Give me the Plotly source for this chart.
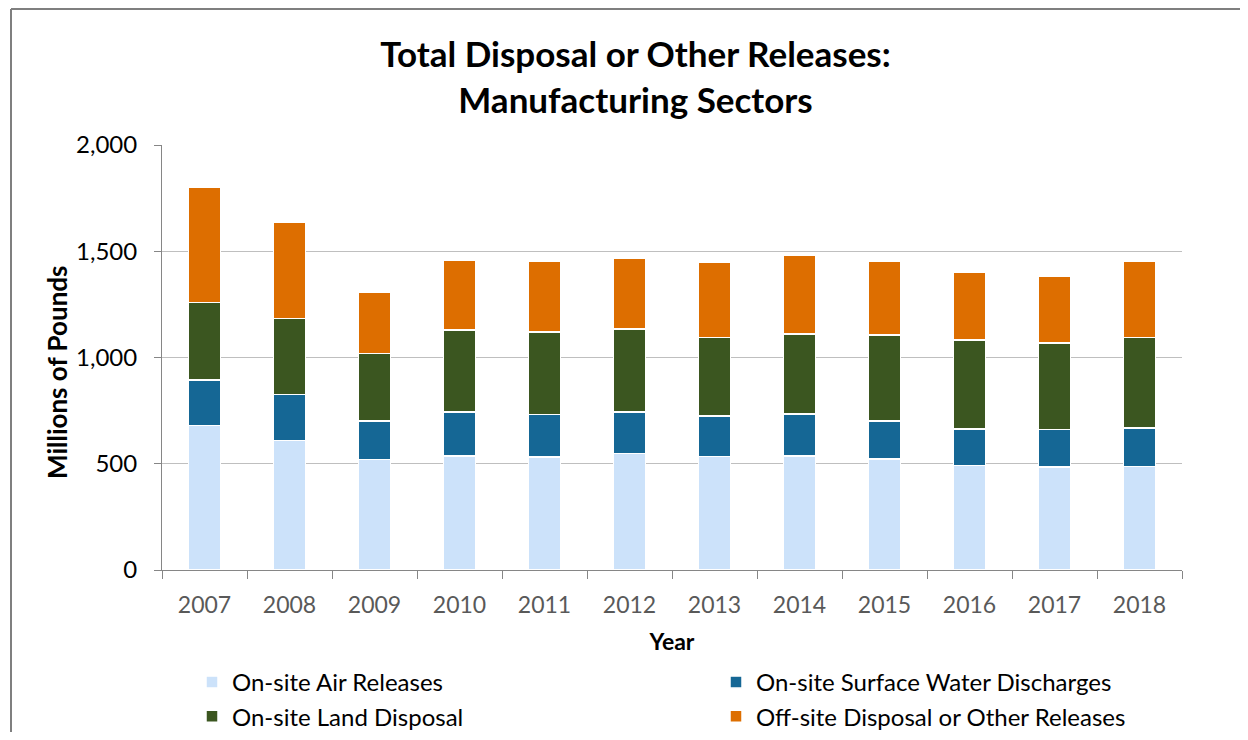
import plotly.graph_objects as go

years = ["2007", "2008", "2009", "2010", "2011", "2012", "2013", "2014", "2015", "2016", "2017", "2018"]
air = [681, 609, 520, 537, 532, 548, 535, 537, 523, 491, 485, 488]
water = [214, 217, 182, 207, 200, 196, 190, 198, 179, 173, 177, 181]
land = [364, 358, 317, 386, 389, 389, 368, 376, 405, 418, 407, 424]
offsite = [540, 452, 289, 328, 331, 335, 353, 371, 345, 321, 314, 359]

series_names = ["On-site Air Releases", "On-site Surface Water Discharges",
                "On-site Land Disposal", "Off-site Disposal or Other Releases"]
colors = ["#cce2fa", "#156795", "#3b5620", "#dd6e00"]
legends = ["legend", "legend2", "legend", "legend2"]

FONT = "Lato"

fig = go.Figure()
for name, vals, col, lg in zip(series_names, [air, water, land, offsite], colors, legends):
    fig.add_trace(go.Bar(
        x=years, y=vals, name=name, legend=lg,
        marker=dict(color=col, line=dict(color="white", width=1.5)),
    ))

# figure coordinates (page is offset by the 8px body margin)
W, H = 1232, 724
L, T = 154, 137
R, B = W - 1174, H - 562
pw, ph = W - L - R, H - T - B

def px_x(x):
    return (x - L) / pw

def px_y(y):
    return (H - B - y) / ph

legend_common = dict(
    xref="container", yref="container", xanchor="left", yanchor="top",
    orientation="v", traceorder="normal",
    font=dict(family=FONT, size=24, color="#000000"),
    bgcolor="rgba(0,0,0,0)", itemclick=False, itemdoubleclick=False,
)

fig.update_layout(
    width=W, height=H,
    margin=dict(l=L, r=R, t=T, b=B, autoexpand=False),
    paper_bgcolor="white", plot_bgcolor="white",
    barmode="stack", bargap=0.625,
    font=dict(family=FONT, color="#000000"),
    title=dict(
        text="<b>Total Disposal or Other Releases:</b><br><b>Manufacturing Sectors</b>",
        x=627.5 / W, xanchor="center", xref="container",
        y=1 - 59 / H, yanchor="top", yref="container",
        font=dict(family=FONT, size=35, color="#000000"),
    ),
    xaxis=dict(
        type="category",
        showline=True, linecolor="#868686", linewidth=1,
        ticks="outside", ticklen=8, tickcolor="#868686", tickson="boundaries",
        ticklabelstandoff=14,
        tickfont=dict(family=FONT, size=23, color="#595959"),
        title=dict(text="<b>Year</b>", font=dict(family=FONT, size=23, color="#000000"), standoff=17),
        showgrid=False,
    ),
    yaxis=dict(
        range=[0, 2000], tickvals=[0, 500, 1000, 1500, 2000],
        ticktext=["0", "500", "1,000", "1,500", "2,000"],
        showline=True, linecolor="#868686", linewidth=1,
        ticks="outside", ticklen=7, tickcolor="#868686",
        ticklabelstandoff=12,
        showgrid=True, gridcolor="#bfbfbf", gridwidth=1.2,
        tickfont=dict(family=FONT, size=24, color="#000000"),
        zeroline=False,
    ),
    annotations=[
        dict(text="<b>Millions of Pounds</b>", textangle=-90,
             xref="paper", yref="paper", x=px_x(49), y=px_y(364),
             xanchor="center", yanchor="middle", showarrow=False,
             font=dict(family=FONT, size=26, color="#000000")),
    ],
    legend=dict(legend_common, x=184 / W, y=1 - 652 / H),
    legend2=dict(legend_common, x=708 / W, y=1 - 652 / H),
    shapes=[
        dict(type="line", xref="paper", yref="paper",
             x0=px_x(3), x1=px_x(3), y0=px_y(760), y1=px_y(1),
             line=dict(color="#7f7f7f", width=2)),
        dict(type="line", xref="paper", yref="paper",
             x0=px_x(3), x1=px_x(1260), y0=px_y(1), y1=px_y(1),
             line=dict(color="#7f7f7f", width=2)),
    ],
)

fig.write_html("out.html")
